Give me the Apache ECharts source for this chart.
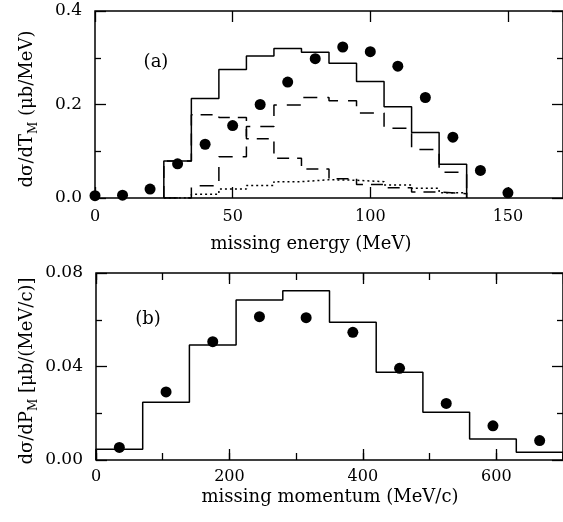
<!DOCTYPE html>
<html><head><meta charset="utf-8">
<script src="https://cdn.jsdelivr.net/npm/echarts@6/dist/echarts.min.js"></script>
<style>html,body{margin:0;padding:0;background:#fff}#c{width:563px;height:522px}</style>
</head><body><div id="c"></div>
<script>
// ---- panel (a): missing energy ----
const energyPointsX = [0,10,20,30,40,50,60,70,80,90,100,110,120,130,140,150];
const energyPointsY = [0.005,0.006,0.019,0.073,0.115,0.155,0.200,0.248,0.298,0.323,0.313,0.282,0.215,0.130,0.059,0.011];
const energyErrors  = [0,0,0,0,0,0,0,0,0,0,0,0,0.010,0,0,0];
const energyBinCenters = [30,40,50,60,70,80,90,100,110,120,130];
const energyBinWidth = 10;
const totalCalc     = [0.079,0.213,0.275,0.304,0.320,0.312,0.288,0.249,0.195,0.140,0.072];
const longDashCalc  = [0.000,0.026,0.088,0.153,0.199,0.215,0.208,0.182,0.149,0.104,0.055];
const shortDashCalc = [0.079,0.178,0.172,0.127,0.085,0.062,0.041,0.029,0.022,0.013,0.009];
const dottedCalc    = [0.000,0.008,0.019,0.027,0.035,0.039,0.038,0.035,0.028,0.021,0.011];
const energyAxis = {min:0, max:170, interval:50};
const energyYAxis = {min:0, max:0.4, interval:0.2};

// ---- panel (b): missing momentum ----
const momentumPointsX = [35,105,175,245,315,385,455,525,595,665];
const momentumPointsY = [0.0054,0.0291,0.0506,0.0613,0.0609,0.0546,0.0392,0.0242,0.0146,0.0083];
const momentumBinCenters = [35,105,175,245,315,385,455,525,595,665];
const momentumBinWidth = 70;
const momentumCalc = [0.0046,0.0247,0.0492,0.0684,0.0724,0.0589,0.0375,0.0204,0.0090,0.0033];
const momentumAxis = {min:0, max:700, interval:200, minorInterval:100};
const momentumYAxis = {min:0, max:0.08, interval:0.04};

const F = 'DejaVu Serif';
const TC = '#000';

function stepData(centers, w, vals){
  const out = [[centers[0]-w/2, 0]];
  centers.forEach((c,i)=>{ out.push([c-w/2, vals[i]]); out.push([c+w/2, vals[i]]); });
  out.push([centers[centers.length-1]+w/2, 0]);
  return out;
}
function xAx(grid, ax, interval, pos, labels, tickLen, margin){
  return {type:'value', gridIndex:grid, min:ax.min, max:ax.max, interval:interval, position:pos,
    axisLine:{show:false, onZero:false}, splitLine:{show:false},
    axisTick:{show:true, inside:false, length:-tickLen, lineStyle:{color:TC, width:1.3}},
    axisLabel:{show:labels, showMaxLabel:false, color:'#000', fontFamily:F, fontSize:16, margin:margin||8}};
}
function yAx(grid, ax, pos, labels, digits){
  return {type:'value', gridIndex:grid, min:ax.min, max:ax.max, interval:ax.interval, position:pos,
    axisLine:{show:false, onZero:false}, splitLine:{show:false},
    axisTick:{show:true, inside:false, length:-11, lineStyle:{color:TC, width:1.3}},
    minorTick:{show:true, splitNumber:2, length:-6, lineStyle:{color:TC, width:1.3}},
    minorSplitLine:{show:false},
    axisLabel:{show:labels, color:'#000', fontFamily:F, fontSize:17, margin:13,
      formatter:v=>v.toFixed(digits)}};
}
function hist(data, xi, yi, type, z){
  return {type:'line', xAxisIndex:xi, yAxisIndex:yi, data:data, showSymbol:false, symbol:'none',
    lineStyle:{color:'#000', width:1.5, type:type}, z:z, animation:false};
}
function errBars(xs, ys, es, xi, yi){
  const d = xs.map((x,i)=>[x, ys[i], es[i]]).filter(r=>r[2]>0);
  return {type:'custom', xAxisIndex:xi, yAxisIndex:yi, data:d, z:6,
    renderItem:(p, api)=>{
      const x=api.value(0), y=api.value(1), e=api.value(2);
      const a=api.coord([x,y-e]), b=api.coord([x,y+e]);
      return {type:'line', shape:{x1:a[0],y1:a[1],x2:b[0],y2:b[1]}, style:{stroke:'#000', lineWidth:1.5}};
    }};
}

const chart = echarts.init(document.getElementById('c'), null, {renderer:'canvas'});
chart.setOption({
  animation:false,
  backgroundColor:'#fff',
  grid:[
    {left:95, top:11, width:469, height:187, show:true, borderColor:'#000', borderWidth:1.5, backgroundColor:'transparent'},
    {left:96, top:273, width:469, height:187, show:true, borderColor:'#000', borderWidth:1.5, backgroundColor:'transparent'}
  ],
  xAxis:[
    xAx(0, energyAxis, energyAxis.interval, 'bottom', true, 11, 11),
    xAx(0, energyAxis, energyAxis.interval, 'top', false, 11),
    xAx(1, momentumAxis, momentumAxis.interval, 'bottom', true, 11, 9),
    xAx(1, momentumAxis, momentumAxis.interval, 'top', false, 11),
    xAx(1, momentumAxis, momentumAxis.minorInterval, 'bottom', false, 7),
    xAx(1, momentumAxis, momentumAxis.minorInterval, 'top', false, 7)
  ],
  yAxis:[
    yAx(0, energyYAxis, 'left', true, 1),
    yAx(0, energyYAxis, 'right', false, 1),
    yAx(1, momentumYAxis, 'left', true, 2),
    yAx(1, momentumYAxis, 'right', false, 2)
  ],
  series:[
    hist(stepData(energyBinCenters, energyBinWidth, dottedCalc), 0, 0, [2,3], 2),
    hist(stepData(energyBinCenters, energyBinWidth, shortDashCalc), 0, 0, [12,8], 3),
    hist(stepData(energyBinCenters, energyBinWidth, longDashCalc), 0, 0, [14,10], 3),
    hist(stepData(energyBinCenters, energyBinWidth, totalCalc), 0, 0, 'solid', 4),
    {type:'scatter', xAxisIndex:0, yAxisIndex:0, data:energyPointsX.map((x,i)=>[x, energyPointsY[i]]),
      symbol:'circle', symbolSize:11, itemStyle:{color:'#000', opacity:1}, z:5, clip:false},
    errBars(energyPointsX, energyPointsY, energyErrors, 0, 0),
    hist(stepData(momentumBinCenters, momentumBinWidth, momentumCalc), 2, 2, 'solid', 4),
    {type:'scatter', xAxisIndex:2, yAxisIndex:2, data:momentumPointsX.map((x,i)=>[x, momentumPointsY[i]]),
      symbol:'circle', symbolSize:11, itemStyle:{color:'#000', opacity:1}, z:5, clip:false}
  ],
  graphic:[
    {type:'text', x:156, y:62, style:{text:'(a)', fontFamily:F, fontSize:18, fill:'#000', align:'center', verticalAlign:'middle'}},
    {type:'text', x:148, y:319, style:{text:'(b)', fontFamily:F, fontSize:18, fill:'#000', align:'center', verticalAlign:'middle'}},
    {type:'text', x:311, y:244, style:{text:'missing energy (MeV)', fontFamily:F, fontSize:18, fill:'#000', align:'center', verticalAlign:'middle'}},
    {type:'text', x:330, y:497, style:{text:'missing momentum (MeV/c)', fontFamily:F, fontSize:18, fill:'#000', align:'center', verticalAlign:'middle'}},
    {type:'text', x:27, y:109, rotation:Math.PI/2, style:{text:'{a|dσ/dT}{b|M}{a| (μb/MeV)}', align:'center', verticalAlign:'middle', fill:'#000',
      rich:{a:{fontFamily:F, fontSize:18, lineHeight:26, fill:'#000'}, b:{fontFamily:F, fontSize:12, lineHeight:12, verticalAlign:'bottom', fill:'#000'}}}},
    {type:'text', x:27, y:371, rotation:Math.PI/2, style:{text:'{a|dσ/dP}{b|M}{a| [μb/(MeV/c)]}', align:'center', verticalAlign:'middle', fill:'#000',
      rich:{a:{fontFamily:F, fontSize:18, lineHeight:26, fill:'#000'}, b:{fontFamily:F, fontSize:12, lineHeight:12, verticalAlign:'bottom', fill:'#000'}}}}
  ]
});
</script></body></html>
